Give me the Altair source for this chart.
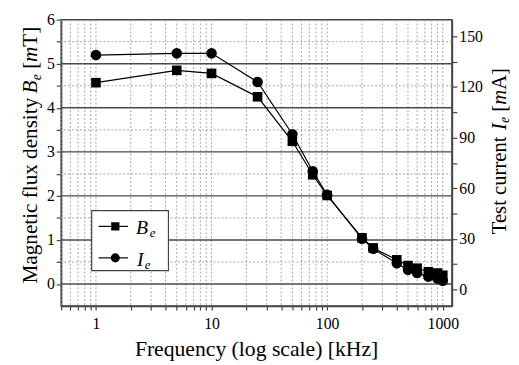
import altair as alt
import pandas as pd

# ---- data ----
freq = [1, 5, 10, 25, 50, 75, 100, 200, 250, 400, 500, 600, 750, 900, 1000]
b_e = [4.57, 4.85, 4.78, 4.25, 3.24, 2.48, 2.01, 1.05, 0.82, 0.55, 0.42, 0.36, 0.28, 0.25, 0.20]
i_e = [139, 140, 140, 123, 92, 70, 56, 30, 24, 15.4, 11.5, 9.6, 7.5, 6.4, 5.0]

x_ticks = [0.5, 0.6, 0.7, 0.8, 0.9,
           1, 2, 3, 4, 5, 6, 7, 8, 9,
           10, 20, 30, 40, 50, 60, 70, 80, 90,
           100, 200, 300, 400, 500, 600, 700, 800, 900, 1000]
y_major = [0, 1, 2, 3, 4, 5]
y_minor = [0.5, 1.5, 2.5, 3.5, 4.5, 5.5]
left_ticks = [0, 0.5, 1, 1.5, 2, 2.5, 3, 3.5, 4, 4.5, 5, 5.5, 6]
right_ticks = [0, 15, 30, 45, 60, 75, 90, 105, 120, 135, 150]

FONT = "Liberation Serif"
XDOM = [0.5, 1200]
LDOM = [-0.5, 6]
RDOM = [-10, 160]

df = pd.DataFrame({"f": freq, "B": b_e, "I": i_e})
one = pd.DataFrame({"k": [0]})

xscale = alt.Scale(type="log", domain=XDOM, nice=False)
lscale = alt.Scale(domain=LDOM, nice=False, zero=False)
rscale = alt.Scale(domain=RDOM, nice=False, zero=False)

x_axis = alt.Axis(
    values=x_ticks, title="",
    labelExpr="(datum.value == 1 || datum.value == 10 || datum.value == 100 || datum.value == 1000) ? format(datum.value, 'd') : ''",
    tickSize=4, labelPadding=6, labelFlush=False, labelOverlap=False,
)
left_axis = alt.Axis(
    values=left_ticks, title="",
    labelExpr="datum.value % 1 == 0 ? format(datum.value, 'd') : ''",
    tickSize=5, labelPadding=2, labelOverlap=False,
)
right_axis = alt.Axis(
    values=right_ticks, title="", orient="right",
    labelExpr="datum.value % 30 == 0 ? format(datum.value, 'd') : ''",
    tickSize=5, labelPadding=2, labelOverlap=False,
)

base = alt.Chart(df)

# main B_e series carries the x and left axes
b_line = base.mark_line(color="black", strokeWidth=1.2).encode(
    x=alt.X("f:Q", scale=xscale, axis=x_axis),
    y=alt.Y("B:Q", scale=lscale, axis=left_axis),
)
b_pts = base.mark_point(shape="square", filled=True, size=95, color="black", opacity=1).encode(
    x=alt.X("f:Q", scale=xscale, axis=x_axis),
    y=alt.Y("B:Q", scale=lscale, axis=left_axis),
)
i_line = base.mark_line(color="black", strokeWidth=1.2).encode(
    x=alt.X("f:Q", scale=xscale, axis=x_axis),
    y=alt.Y("I:Q", scale=rscale, axis=right_axis),
)
i_pts = base.mark_circle(size=115, color="black", opacity=1).encode(
    x=alt.X("f:Q", scale=xscale, axis=x_axis),
    y=alt.Y("I:Q", scale=rscale, axis=right_axis),
)

# grid
vgrid = alt.Chart(pd.DataFrame({"f": x_ticks})).mark_rule(
    color="#9a9a9a", strokeWidth=0.9, strokeDash=[2, 2]
).encode(x=alt.X("f:Q", scale=xscale, axis=x_axis))
hminor = alt.Chart(pd.DataFrame({"B": y_minor})).mark_rule(
    color="#9a9a9a", strokeWidth=0.9, strokeDash=[2, 2]
).encode(y=alt.Y("B:Q", scale=lscale, axis=left_axis))
hmajor = alt.Chart(pd.DataFrame({"B": y_major})).mark_rule(
    color="#4a4a4a", strokeWidth=1.4
).encode(y=alt.Y("B:Q", scale=lscale, axis=left_axis))


def txt(s, x, y, size=22, style="normal", angle=0, align="left", baseline="alphabetic"):
    kw = dict(text=s, font=FONT, fontSize=size, fontStyle=style, color="black",
              align=align, baseline=baseline)
    if angle:
        kw["angle"] = angle
    return alt.Chart(one).mark_text(**kw).encode(x=alt.value(x), y=alt.value(y))


# legend
leg_box = alt.Chart(one).mark_rect(fill="white", stroke="#444444", strokeWidth=1.2).encode(
    x=alt.value(31), x2=alt.value(109), y=alt.value(194), y2=alt.value(255))
leg_l1 = alt.Chart(one).mark_rule(color="black", strokeWidth=1.2).encode(
    x=alt.value(38), x2=alt.value(68), y=alt.value(210))
leg_l2 = alt.Chart(one).mark_rule(color="black", strokeWidth=1.2).encode(
    x=alt.value(38), x2=alt.value(68), y=alt.value(242))
leg_p1 = alt.Chart(one).mark_point(shape="square", filled=True, size=70, color="black", opacity=1).encode(
    x=alt.value(55), y=alt.value(210))
leg_p2 = alt.Chart(one).mark_circle(size=85, color="black", opacity=1).encode(
    x=alt.value(55), y=alt.value(242))
legend = [leg_box, leg_l1, leg_l2, leg_p1, leg_p2,
          txt("B", 76, 218, 20, "italic"), txt("e", 90, 221, 13, "italic"),
          txt("I", 77, 250, 20, "italic"), txt("e", 85, 253, 13, "italic")]

# axis titles (manual, for italic / subscript parts)
LX = -25
LS = 21.5
left_title = [
    txt("Magnetic flux density", LX, 268, LS, angle=270),
    txt("B", LX, 75, LS, "italic", angle=270),
    txt("e", LX + 5, 61.5, 14, "italic", angle=270),
    txt("[", LX, 50, LS, angle=270),
    txt("m", LX, 43, LS, "italic", angle=270),
    txt("T]", LX, 27.5, LS, angle=270),
]
RX = 452
right_title = [
    txt("Test current", RX, 218, 21, angle=270),
    txt("I", RX, 112, 21, "italic", angle=270),
    txt("e", RX + 2.5, 105, 14, "italic", angle=270),
    txt("[", RX, 93.5, 21, angle=270),
    txt("m", RX, 86.5, 21, "italic", angle=270),
    txt("A]", RX, 71.3, 21, angle=270),
]
x_title = txt("Frequency (log scale) [kHz]", 198.5, 341.5, 22, align="center")

left = alt.layer(vgrid, hminor, hmajor, b_line, b_pts)
right = alt.layer(i_line, i_pts)
deco = alt.layer(*legend, *left_title, *right_title, x_title)

chart = alt.layer(left, right, deco).resolve_scale(y="independent").properties(
    width=397, height=291,
    autosize=alt.AutoSizeParams(type="none"),
    padding={"left": 54, "top": 9, "right": 60, "bottom": 57},
).configure_view(
    stroke="#444444", strokeWidth=1.5
).configure_axis(
    labelFont=FONT, labelFontSize=16, labelColor="black",
    domainColor="#444444", domainWidth=1.5,
    tickColor="#444444", tickWidth=1.2, grid=False,
)

chart.save("out.html", embed_options={"renderer": "svg", "actions": False})
